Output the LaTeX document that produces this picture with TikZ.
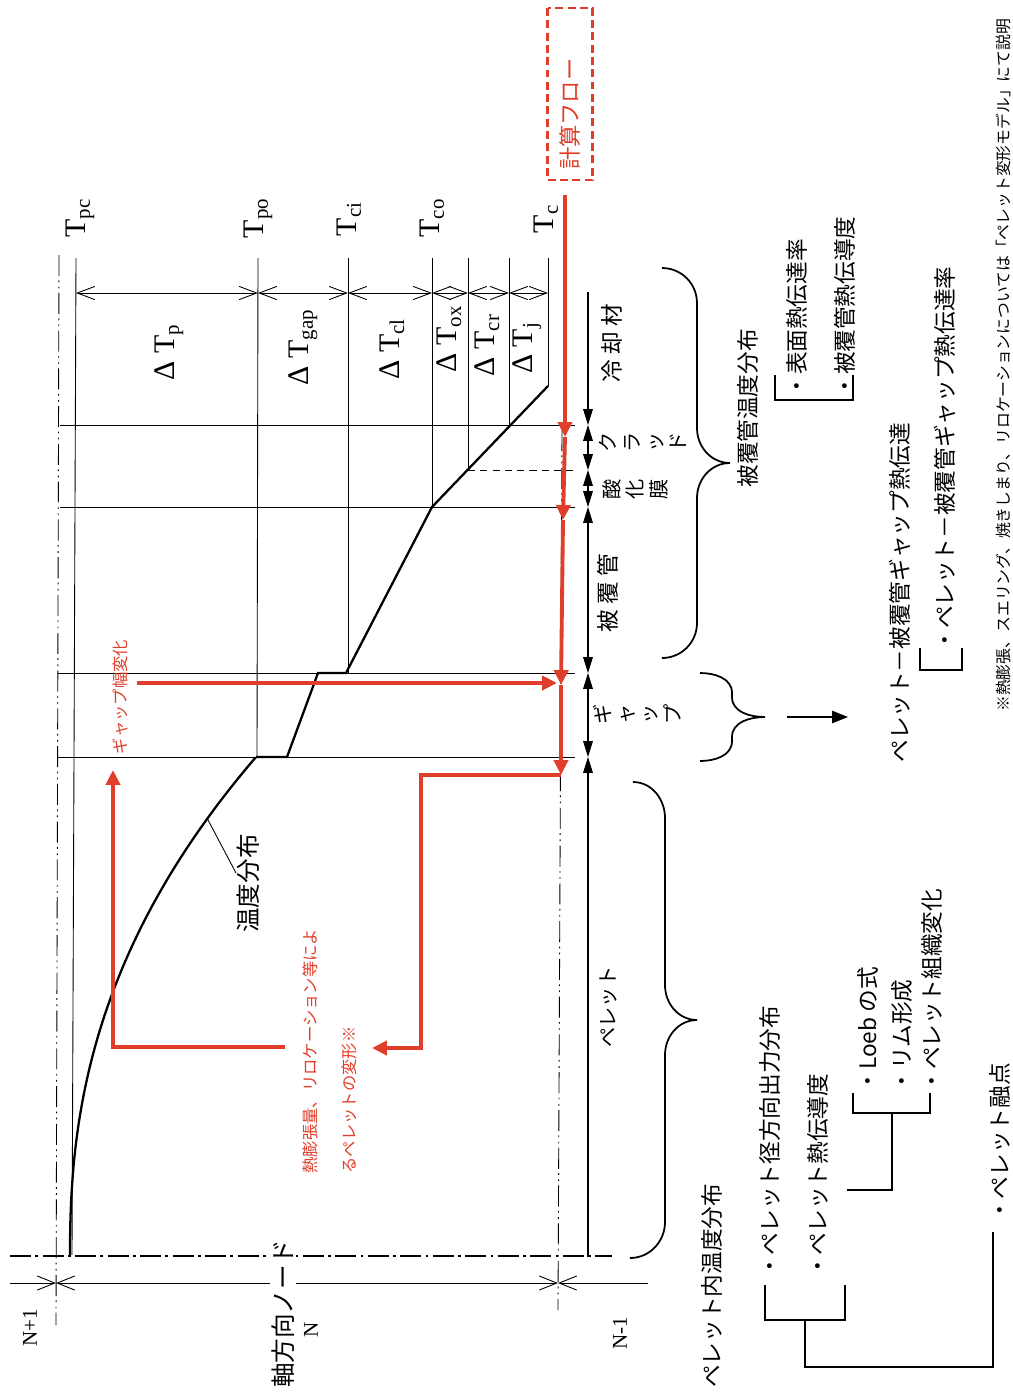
\documentclass[tikz,border=0pt]{standalone}
\usepackage{fontspec}
\setmainfont{Liberation Serif}
\newfontfamily\jp{Noto Sans CJK JP}
\usetikzlibrary{arrows.meta}

\definecolor{flowred}{RGB}{224,62,42}

\tikzset{
  thinline/.style={line width=0.5pt},
  profile/.style={line width=1.3pt},
  flow/.style={flowred, line width=2.2pt, -{Triangle[length=8.5pt,width=8pt]}},
  dimline/.style={line width=0.5pt, {Straight Barb[length=10pt,width=7.5pt]}-{Straight Barb[length=10pt,width=7.5pt]}},
  layerline/.style={line width=0.6pt, {Triangle[length=9pt,width=5.5pt]}-{Triangle[length=9pt,width=5.5pt]}},
  layerend/.style={line width=0.6pt, -{Triangle[length=9pt,width=5.5pt]}},
  dashdotdot/.style={line width=0.5pt, dash pattern=on 12pt off 2.5pt on 1pt off 2.5pt on 1pt off 2.5pt},
  centreline/.style={line width=1.1pt, dash pattern=on 12pt off 2.5pt on 1.5pt off 2.5pt},
  brace/.style={line width=1pt},
  bracket/.style={line width=1pt},
  tlabel/.style={rotate=90, inner sep=0pt, font=\fontsize{17}{20}\selectfont},
  jlabel/.style={rotate=90, inner sep=0pt, font=\jp\fontsize{12.9}{15}\selectfont},
  jstack/.style={rotate=90, inner sep=0pt, align=center, font=\jp\fontsize{11.5}{13.3}\selectfont},
  jtext/.style={rotate=90, inner sep=0pt, anchor=west, font=\jp\fontsize{12.9}{15}\selectfont},
  redlabel/.style={rotate=90, inner sep=0pt, text=flowred, font=\jp\fontsize{9.3}{11}\selectfont},
  nlabel/.style={rotate=90, inner sep=0pt, font=\fontsize{12}{14}\selectfont},
}

\begin{document}
\begin{tikzpicture}[x=0.02cm, y=-0.02cm]
  \useasboundingbox (0,0) rectangle (1012,1394);

  % Centre lines
  \draw[dashdotdot] (59,255) -- (56,1325);
  \draw[dashdotdot] (562,430) -- (558,1310);
  \draw[centreline] (10,1256) -- (612,1256);

  % Temperature levels
  \draw[thinline] (76,258) -- (72,1255);
  \draw[thinline] (258,258) -- (257,757);
  \draw[thinline] (348,258) -- (348,673);
  \draw[thinline] (432,258) -- (432,507);
  \draw[thinline] (468,258) -- (468,470);
  \draw[thinline] (509,258) -- (509,425);
  \draw[thinline] (548,258) -- (548,386);

  % Layer boundaries
  \draw[thinline] (60,425) -- (575,425);
  \draw[thinline, dash pattern=on 4pt off 3pt] (468,470) -- (575,470);
  \draw[thinline] (60,507) -- (575,507);
  \draw[thinline] (58,673) -- (575,673);
  \draw[thinline] (57,757) -- (575,757);

  % Temperature differences
  \coordinate (dpc) at (76,293);
  \coordinate (dpo) at (258,293);
  \coordinate (dci) at (348,293);
  \coordinate (dco) at (432,293);
  \coordinate (dcr) at (468,293);
  \coordinate (dj) at (509,293);
  \coordinate (dc) at (548,293);
  \draw[dimline] (dpc) -- (dpo);
  \draw[dimline] (dpo) -- (dci);
  \draw[dimline] (dci) -- (dco);
  \draw[dimline] (dco) -- (dcr);
  \draw[dimline] (dcr) -- (dj);
  \draw[dimline] (dj) -- (dc);

  \node[tlabel] (Tpc) at (80,218) {T\textsubscript{pc}};
  \node[tlabel] (Tpo) at (258,218) {T\textsubscript{po}};
  \node[tlabel] (Tci) at (349,219) {T\textsubscript{ci}};
  \node[tlabel] (Tco) at (432,218) {T\textsubscript{co}};
  \node[tlabel] (Tc) at (546,219) {T\textsubscript{c}};

  \node[tlabel] (dTp) at (169,352) {Δ T\textsubscript{p}};
  \node[tlabel] (dTgap) at (303,347) {Δ T\textsubscript{gap}};
  \node[tlabel] (dTcl) at (392,349) {Δ T\textsubscript{cl}};
  \node[tlabel] (dTox) at (449,339) {Δ T\textsubscript{ox}};
  \node[tlabel] (dTcr) at (487,345) {Δ T\textsubscript{cr}};
  \node[tlabel] (dTj) at (527,348) {Δ T\textsubscript{j}};

  % Temperature profile
  \draw[profile] (548,386) -- (432,507) -- (346,673) -- (318,673) -- (287,757) -- (256,757);
  \draw[profile] (70,1255) -- plot[domain=0.02:1, samples=50] ({70+186*pow(\x,2.3)}, {1255-498*\x});
  \coordinate (lead0) at (207,818);
  \coordinate (lead1) at (236,873);
  \draw[thinline] (lead0) -- (lead1);
  \node[jtext, font=\jp\fontsize{14}{16}\selectfont] (tdist) at (248,933) {温度分布};

  % Axial nodes
  \coordinate (nl) at (10,1283);
  \coordinate (na) at (56,1283);
  \coordinate (nb) at (558,1283);
  \coordinate (nr) at (648,1283);
  \draw[thinline, -{Straight Barb[length=10pt,width=8pt]}] (nl) -- (na);
  \draw[thinline, {Straight Barb[length=10pt,width=8pt]}-{Straight Barb[length=10pt,width=8pt]}] (na) -- (nb);
  \draw[thinline, {Straight Barb[length=10pt,width=8pt]}-] (nb) -- (nr);
  \node[nlabel] (nplus) at (30,1328) {N+1};
  \node[nlabel] (nzero) at (311,1330) {N};
  \node[nlabel] (nminus) at (620,1333) {N-1};
  \node[jtext, fill=white, inner sep=1pt, font=\jp\fontsize{14}{16}\selectfont] (axial) at (283,1390) {軸方向ノード};

  % Calculation flow
  \node[rotate=90, draw=flowred, dash pattern=on 4.5pt off 2.5pt, line width=1.2pt, text=flowred,
        font=\jp\fontsize{12.7}{15}\selectfont, text width=3.04cm, inner xsep=0.2cm,
        minimum height=0.9cm, align=left] (flowbox) at (570,94) {計算フロー};
  \coordinate (f0) at (565,195);
  \coordinate (f1) at (565,437);
  \coordinate (f2) at (563,520);
  \coordinate (f3) at (561,685);
  \coordinate (f4) at (561,775);
  \draw[flow] (f0) -- (f1);
  \draw[flow] (f1) -- (f2);
  \draw[flow] (f2) -- (f3);
  \draw[flow] (f3) -- (f4);
  \coordinate (g0) at (137,683);
  \coordinate (g1) at (557,683);
  \draw[flow] (g0) -- (g1);
  \coordinate (p1) at (421,1048);
  \coordinate (p2) at (372,1048);
  \draw[flow] (f4) -| (p1) -- (p2);
  \coordinate (q0) at (285,1047);
  \coordinate (q1) at (113,770);
  \draw[flow] (q0) -| (q1);
  \node[redlabel] (gapchange) at (120,697) {ギャップ幅変化};
  \node[redlabel, anchor=north west, align=left, font=\jp\fontsize{9.3}{22.5}\selectfont] (deform) at (302,1174)
    {熱膨張量、リロケーション等によ\\るペレットの変形※};

  % Layers
  \coordinate (c0) at (588,292);
  \coordinate (c1) at (588,425);
  \coordinate (c2) at (588,470);
  \coordinate (c3) at (588,507);
  \coordinate (c4) at (588,673);
  \coordinate (c5) at (588,757);
  \coordinate (c6) at (588,1257);
  \draw[layerend] (c0) -- (c1);
  \draw[layerline] (c1) -- (c2);
  \draw[layerline] (c2) -- (c3);
  \draw[layerline] (c3) -- (c4);
  \draw[layerline] (c4) -- (c5);
  \draw[layerend] (c6) -- (c5);
  \node[jlabel] (coolant) at (612,343) {冷 却 材};
  \node[jstack] (crud) at (643,442) {ク\\ラ\\ッ\\ド};
  \node[jstack] (oxide) at (635,489) {酸\\化\\膜};
  \node[jlabel] (clad) at (608,593) {被 覆 管};
  \node[jstack] (gap) at (637,714) {ギ\\ャ\\ッ\\プ};
  \node[jlabel, font=\jp\fontsize{11.5}{14}\selectfont] (pellet) at (608,1007) {ペレット};

  % Braces
  \draw[brace] (662,268) to[out=0,in=90] (697,303) -- (697,428) to[out=-90,in=180] (730,463)
    to[out=180,in=90] (697,498) -- (697,623) to[out=-90,in=0] (662,658);
  \draw[brace] (700,673) to[out=0,in=90] (732,693) -- (732,697) to[out=-90,in=180] (765,717)
    to[out=180,in=90] (732,737) -- (732,741) to[out=-90,in=0] (700,761);
  \draw[brace] (633,782) to[out=0,in=90] (665,818) -- (665,985) to[out=-90,in=180] (697,1020)
    to[out=180,in=90] (665,1055) -- (665,1222) to[out=-90,in=0] (630,1258);
  \coordinate (a0) at (787,717);
  \coordinate (a1) at (848,717);
  \draw[line width=0.8pt, -{Triangle[length=9pt,width=7pt]}] (a0) -- (a1);

  % Cladding models
  \node[jtext] (cladtemp) at (748,488) {被覆管温度分布};
  \draw[bracket] (775,375) |- (853,400) -- (853,375);
  \node[jtext] (htc) at (797,398) {・表面熱伝達率};
  \node[jtext] (kclad) at (845,398) {・被覆管熱伝導度};
  \node[jtext] (gapht) at (900,763) {ペレット－被覆管ギャップ熱伝達};
  \draw[bracket] (920,648) |- (962,670) -- (962,648);
  \node[jtext] (gaphtc) at (945,652) {・ペレット－被覆管ギャップ熱伝達率};
  \node[jtext, font=\jp\fontsize{9}{11}\selectfont] (note) at (1003,712)
    {※熱膨張、スエリング、焼きしまり、リロケーションについては「ペレット変形モデル」にて説明};

  % Pellet models
  \node[jtext] (pintemp) at (712,1388) {ペレット内温度分布};
  \draw[bracket] (765,1285) |- (845,1320) -- (845,1285);
  \node[jtext] (power) at (770,1278) {・ペレット径方向出力分布};
  \node[jtext] (kpel) at (818,1278) {・ペレット熱伝導度};
  \draw[bracket] (805,1320) -- (805,1367) -| (993,1232);
  \draw[bracket] (853,1093) |- (930,1113) -- (930,1093);
  \draw[bracket] (892,1113) |- (847,1190);
  \node[jtext] (loeb) at (868,1093) {・Loeb の式};
  \node[jtext] (rim) at (902,1093) {・リム形成};
  \node[jtext] (struct) at (932,1093) {・ペレット組織変化};
  \node[jtext] (melt) at (1000,1222) {・ペレット融点};
\end{tikzpicture}
\end{document}
